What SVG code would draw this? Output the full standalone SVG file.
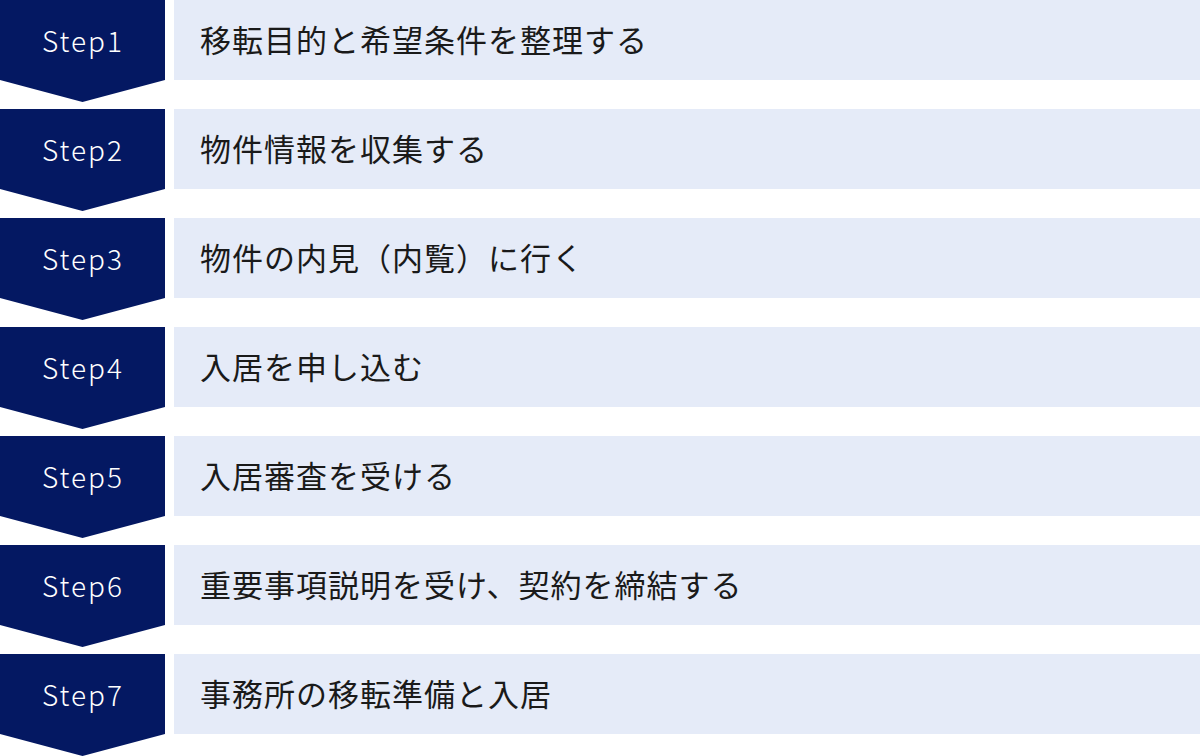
<svg xmlns="http://www.w3.org/2000/svg" width="1200" height="756" viewBox="0 0 1200 756">
<defs>
<style>
.badge{fill:#041862}
.box{fill:#e5ebf8}
.step{font-family:"Noto Sans CJK JP","Noto Sans",sans-serif;font-size:28px;font-weight:300;fill:#ffffff;text-anchor:middle;letter-spacing:2px}
.lbl{font-family:"Noto Sans CJK JP","Noto Sans",sans-serif;font-size:31px;fill:#1a1a1a;letter-spacing:1px}
</style>
<path id="chev" d="M0 0H165V80L82.5 102L0 80Z"/>
</defs>
<rect width="1200" height="756" fill="#ffffff"/>
<g id="step1" transform="translate(0,0)"><use href="#chev" class="badge"/><rect class="box" x="174" y="0" width="1026" height="80"/><text class="step" x="83" y="52">Step1</text><text class="lbl" x="200" y="52">移転目的と希望条件を整理する</text></g>
<g id="step2" transform="translate(0,109)"><use href="#chev" class="badge"/><rect class="box" x="174" y="0" width="1026" height="80"/><text class="step" x="83" y="52">Step2</text><text class="lbl" x="200" y="52">物件情報を収集する</text></g>
<g id="step3" transform="translate(0,218)"><use href="#chev" class="badge"/><rect class="box" x="174" y="0" width="1026" height="80"/><text class="step" x="83" y="52">Step3</text><text class="lbl" x="200" y="52">物件の内見（内覧）に行く</text></g>
<g id="step4" transform="translate(0,327)"><use href="#chev" class="badge"/><rect class="box" x="174" y="0" width="1026" height="80"/><text class="step" x="83" y="52">Step4</text><text class="lbl" x="200" y="52">入居を申し込む</text></g>
<g id="step5" transform="translate(0,436)"><use href="#chev" class="badge"/><rect class="box" x="174" y="0" width="1026" height="80"/><text class="step" x="83" y="52">Step5</text><text class="lbl" x="200" y="52">入居審査を受ける</text></g>
<g id="step6" transform="translate(0,545)"><use href="#chev" class="badge"/><rect class="box" x="174" y="0" width="1026" height="80"/><text class="step" x="83" y="52">Step6</text><text class="lbl" x="200" y="52">重要事項説明を受け、契約を締結する</text></g>
<g id="step7" transform="translate(0,654)"><use href="#chev" class="badge"/><rect class="box" x="174" y="0" width="1026" height="80"/><text class="step" x="83" y="52">Step7</text><text class="lbl" x="200" y="52">事務所の移転準備と入居</text></g>
<g id="connectors"/>
</svg>
